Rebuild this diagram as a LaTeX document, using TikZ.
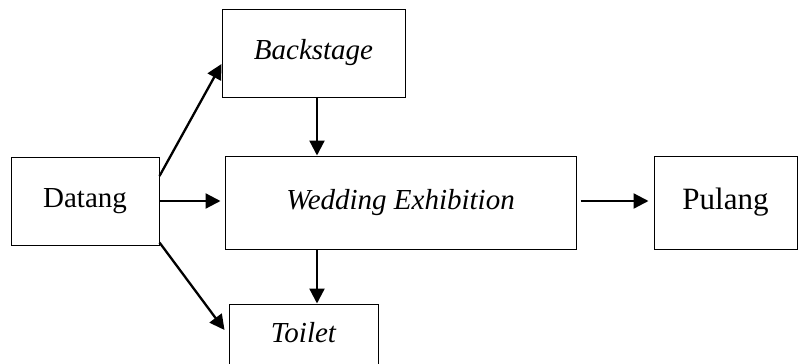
\documentclass[tikz,border=0pt]{standalone}
\usepackage{fontspec}
\setmainfont{Liberation Serif}
\usetikzlibrary{arrows.meta}
\begin{document}
\begin{tikzpicture}[x=1pt,y=-1pt,
  boxnode/.style={draw=black,line width=1pt,inner sep=0pt,anchor=center,
    font=\fontsize{29}{32}\selectfont},
  arr/.style={line width=2.3pt,-{Triangle[length=15pt,width=15pt]}}]
\useasboundingbox (0,0) rectangle (798,364);
\clip (0,0) rectangle (798,364);
\node[boxnode,minimum width=148pt,minimum height=88pt] (datang) at (85,201) {Datang};
\node[boxnode,minimum width=183pt,minimum height=88pt] (backstage) at (313.5,53) {\itshape Backstage};
\node[boxnode,minimum width=351pt,minimum height=93pt] (wedding) at (400.5,202.5) {\itshape Wedding Exhibition};
\node[boxnode,minimum width=143pt,minimum height=93pt,font=\fontsize{31}{34}\selectfont] (pulang) at (725.5,202.5) {Pulang};
\node[boxnode,minimum width=149pt,minimum height=66pt,text depth=10pt] (toilet) at (303.5,337) {\itshape Toilet};
\coordinate (c1) at ([xshift=3.5pt]backstage.south);
\coordinate (c2) at ([xshift=13.5pt]toilet.north);
\draw[arr] ([yshift=25pt]datang.east) -- ([yshift=-11pt]backstage.west);
\draw[arr] (c1) -- (c1 |- wedding.north);
\draw[arr] (datang.east) -- ([xshift=-4pt]datang.east -| wedding.west);
\draw[arr] ([yshift=3pt]datang.south east) -- ([xshift=-4pt,yshift=7pt]toilet.west);
\draw[arr] (c2 |- wedding.south) -- (c2);
\draw[arr] ([xshift=4pt,yshift=1.5pt]wedding.east) -- ([xshift=-5pt,yshift=1.5pt]wedding.east -| pulang.west);
\end{tikzpicture}
\end{document}
